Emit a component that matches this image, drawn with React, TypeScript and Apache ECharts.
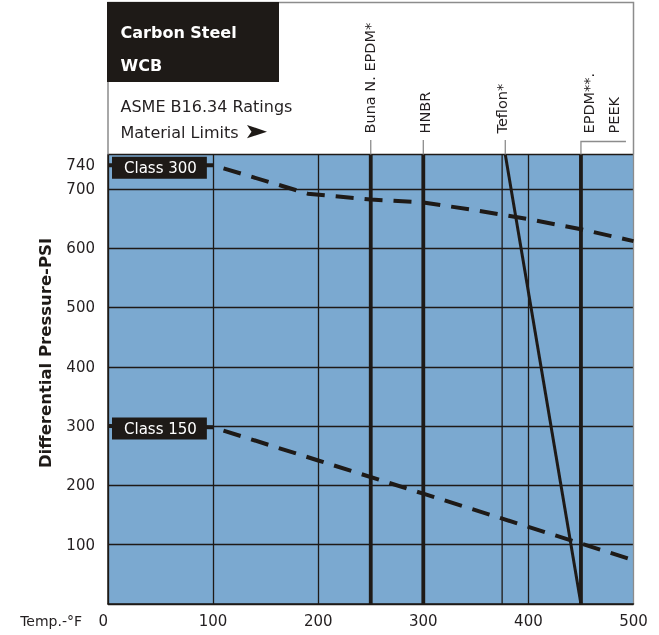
import React, { useEffect, useRef } from "react";
import * as echarts from "echarts";

// ---- data ----
const X_TICKS = [0, 100, 200, 300, 400, 500];
const Y_TICKS = [100, 200, 300, 400, 500, 600, 700];
const Y_TOP_LABEL = 740;
const Y_MAX = 758;
const EXTRA_GRID_TEMPS = [375];

const CLASS_NAMES = ["Class 300", "Class 150"];
const CLASS_300_TEMPS = [0, 100, 190, 250, 300, 350, 400, 450, 500];
const CLASS_300_PSI = [740, 740, 692, 682, 677, 664, 649, 632, 612];
const CLASS_150_TEMPS = [0, 100, 200, 300, 400, 500];
const CLASS_150_PSI = [300, 298, 242, 186, 130, 74];

const MATERIALS = ["Buna N. EPDM*", "HNBR", "Teflon*", "EPDM**.", "PEEK"];
const MATERIAL_LIMIT_TEMPS = [250, 300, 378, 450, 450];
const TEFLON_TEMPS = [378, 450];
const TEFLON_PSI = [Y_MAX, 0];

const TITLE_LINES = ["Carbon Steel", "WCB"];
const NOTE_LINES = ["ASME B16.34 Ratings", "Material Limits"];
const X_NAME = "Temp.-°F";
const Y_NAME = "Differential Pressure-PSI";

// ---- layout (not data) ----
const LABEL_DX = [-1, 1.5, -3, 8, 33];

export default function App() {
  const ref = useRef<HTMLDivElement>(null);

  useEffect(() => {
    const el = ref.current!;
    const chart = echarts.init(el, null, { renderer: "svg" });
    const FONT = "DejaVu Sans";
    const INK = "#1e1a17";
    const TXT = "#231f20";
    const BLUE = "#7ba9d0";
    const GREY = "#8c8c8c";

    const lineSeries = (name: string, temps: number[], psi: number[], width: number, type: any = "solid", extra: any = {}) => ({
      type: "line",
      name,
      data: temps.map((t, i) => [t, psi[i]]),
      showSymbol: false,
      symbol: "none",
      silent: true,
      z: 3,
      lineStyle: { color: INK, width, type, cap: "butt" },
      ...extra,
    });

    const classLabel = (name: string, t: number, p: number) => ({
      symbol: "rect",
      symbolSize: 0,
      silent: true,
      data: [{ name, coord: [t, p] }],
      label: {
        show: true,
        position: "right",
        distance: 4,
        offset: [0, 2.5],
        formatter: "{b}",
        color: "#ffffff",
        backgroundColor: INK,
        padding: [3, 10, 2, 12],
        lineHeight: 17,
        fontFamily: FONT,
        fontSize: 15,
      },
      z: 10,
    });

    const series: any[] = [
      ...EXTRA_GRID_TEMPS.map((t) => lineSeries("grid", [t, t], [0, Y_MAX], 1.3, "solid", { z: 1 })),
      lineSeries(MATERIALS[0], [MATERIAL_LIMIT_TEMPS[0], MATERIAL_LIMIT_TEMPS[0]], [0, Y_MAX], 3.8),
      lineSeries(MATERIALS[1], [MATERIAL_LIMIT_TEMPS[1], MATERIAL_LIMIT_TEMPS[1]], [0, Y_MAX], 3.8),
      lineSeries(MATERIALS[2], TEFLON_TEMPS, TEFLON_PSI, 3),
      lineSeries(MATERIALS[3], [MATERIAL_LIMIT_TEMPS[3], MATERIAL_LIMIT_TEMPS[3]], [0, Y_MAX], 3.8),
      lineSeries(CLASS_NAMES[0], CLASS_300_TEMPS, CLASS_300_PSI, 4, [18, 11], {
        markPoint: classLabel(CLASS_NAMES[0], CLASS_300_TEMPS[0], CLASS_300_PSI[0]),
      }),
      lineSeries(CLASS_NAMES[1], CLASS_150_TEMPS, CLASS_150_PSI, 4, [18, 11], {
        markPoint: classLabel(CLASS_NAMES[1], CLASS_150_TEMPS[0], CLASS_150_PSI[0]),
      }),
    ];

    const splitColors = X_TICKS.map((_, i) => (i === X_TICKS.length - 1 ? GREY : INK));

    chart.setOption({
      animation: false,
      grid: { left: 108, right: 25.5, top: 154.5, bottom: 31, show: true, backgroundColor: BLUE, borderWidth: 0 },
      xAxis: {
        type: "value",
        min: X_TICKS[0],
        max: X_TICKS[X_TICKS.length - 1],
        interval: 100,
        axisLine: { show: true, lineStyle: { color: INK, width: 1.5 } },
        axisTick: { show: false },
        splitLine: { show: true, lineStyle: { color: splitColors, width: 1.3 } },
        axisLabel: {
          margin: 9,
          color: TXT,
          fontFamily: FONT,
          fontSize: 15,
          alignMinLabel: "right",
          formatter: (v: number) => (X_TICKS.includes(v) ? String(v) : ""),
        },
        name: X_NAME,
        nameLocation: "start",
        nameGap: 26,
        nameTextStyle: { color: TXT, fontFamily: FONT, fontSize: 14, align: "right", verticalAlign: "top", padding: [10, 0, 0, 0] },
      },
      yAxis: [
        {
          type: "value",
          min: 0,
          max: Y_MAX,
          interval: 100,
          axisLine: { show: true, lineStyle: { color: INK, width: 1.5 } },
          axisTick: { show: false },
          splitLine: { show: true, lineStyle: { color: INK, width: 1.3 } },
          axisLabel: {
            margin: 13,
            color: TXT,
            fontFamily: FONT,
            fontSize: 15,
            padding: [4, 0, 0, 0],
            formatter: (v: number) => (Y_TICKS.includes(v) ? String(v) : ""),
          },
        },
        {
          type: "value",
          min: 0,
          max: Y_MAX,
          interval: Y_TOP_LABEL,
          position: "left",
          axisLine: { show: false },
          axisTick: { show: false },
          splitLine: { show: false },
          axisLabel: {
            margin: 13,
            color: TXT,
            fontFamily: FONT,
            fontSize: 15,
            formatter: (v: number) => (v === Y_TOP_LABEL ? String(v) : ""),
          },
        },
      ],
      series,
    });

    const px = (t: number) => chart.convertToPixel({ xAxisIndex: 0 }, t) as number;
    const topY = chart.convertToPixel({ yAxisIndex: 0 }, Y_MAX) as number;
    const leftX = px(X_TICKS[0]);
    const rightX = px(X_TICKS[X_TICKS.length - 1]);

    const graphics: any[] = [];
    graphics.push({
      type: "polyline",
      z: 20,
      silent: true,
      shape: { points: [[leftX, topY], [leftX, 2.5], [rightX, 2.5], [rightX, topY]] },
      style: { stroke: GREY, lineWidth: 1.5, fill: null },
    });
    graphics.push({
      type: "rect",
      z: 21,
      silent: true,
      shape: { x: leftX - 1, y: 2, width: 172, height: 80 },
      style: { fill: INK },
    });
    TITLE_LINES.forEach((s, i) =>
      graphics.push({
        type: "text",
        z: 22,
        silent: true,
        x: 120.5,
        y: 32 + i * 33,
        style: { text: s, fill: "#ffffff", font: `bold 16px "${FONT}"`, align: "left", verticalAlign: "middle" },
      })
    );
    NOTE_LINES.forEach((s, i) =>
      graphics.push({
        type: "text",
        z: 22,
        silent: true,
        x: 120.5,
        y: 106 + i * 26,
        style: { text: s, fill: TXT, font: `16px "${FONT}"`, align: "left", verticalAlign: "middle" },
      })
    );
    graphics.push({
      type: "polygon",
      z: 22,
      silent: true,
      shape: { points: [[247, 125], [267, 131.7], [247, 138.3], [251.5, 131.7]] },
      style: { fill: INK },
    });
    graphics.push({
      type: "text",
      z: 22,
      silent: true,
      x: 45,
      y: 353,
      rotation: Math.PI / 2,
      style: { text: Y_NAME, fill: INK, font: `bold 16.5px "${FONT}"`, align: "center", verticalAlign: "middle" },
    });
    MATERIALS.forEach((m, i) => {
      const x = px(MATERIAL_LIMIT_TEMPS[i]);
      graphics.push({
        type: "text",
        z: 22,
        silent: true,
        x: x + LABEL_DX[i],
        y: 133.5,
        rotation: Math.PI / 2,
        style: { text: m, fill: TXT, font: `14.5px "${FONT}"`, align: "left", verticalAlign: "middle" },
      });
    });
    [0, 1, 2].forEach((i) => {
      const x = px(MATERIAL_LIMIT_TEMPS[i]);
      graphics.push({
        type: "line",
        z: 22,
        silent: true,
        shape: { x1: x, y1: 140, x2: x, y2: topY },
        style: { stroke: GREY, lineWidth: 1.3 },
      });
    });
    {
      const x = px(MATERIAL_LIMIT_TEMPS[3]);
      graphics.push({
        type: "polyline",
        z: 22,
        silent: true,
        shape: { points: [[x, topY], [x, 141.5], [x + 45, 141.5]] },
        style: { stroke: GREY, lineWidth: 1.3, fill: null },
      });
    }

    chart.setOption({ graphic: graphics });

    return () => chart.dispose();
  }, []);

  return <div ref={ref} style={{ position: "fixed", left: 0, top: 0, width: 659, height: 635 }} />;
}
